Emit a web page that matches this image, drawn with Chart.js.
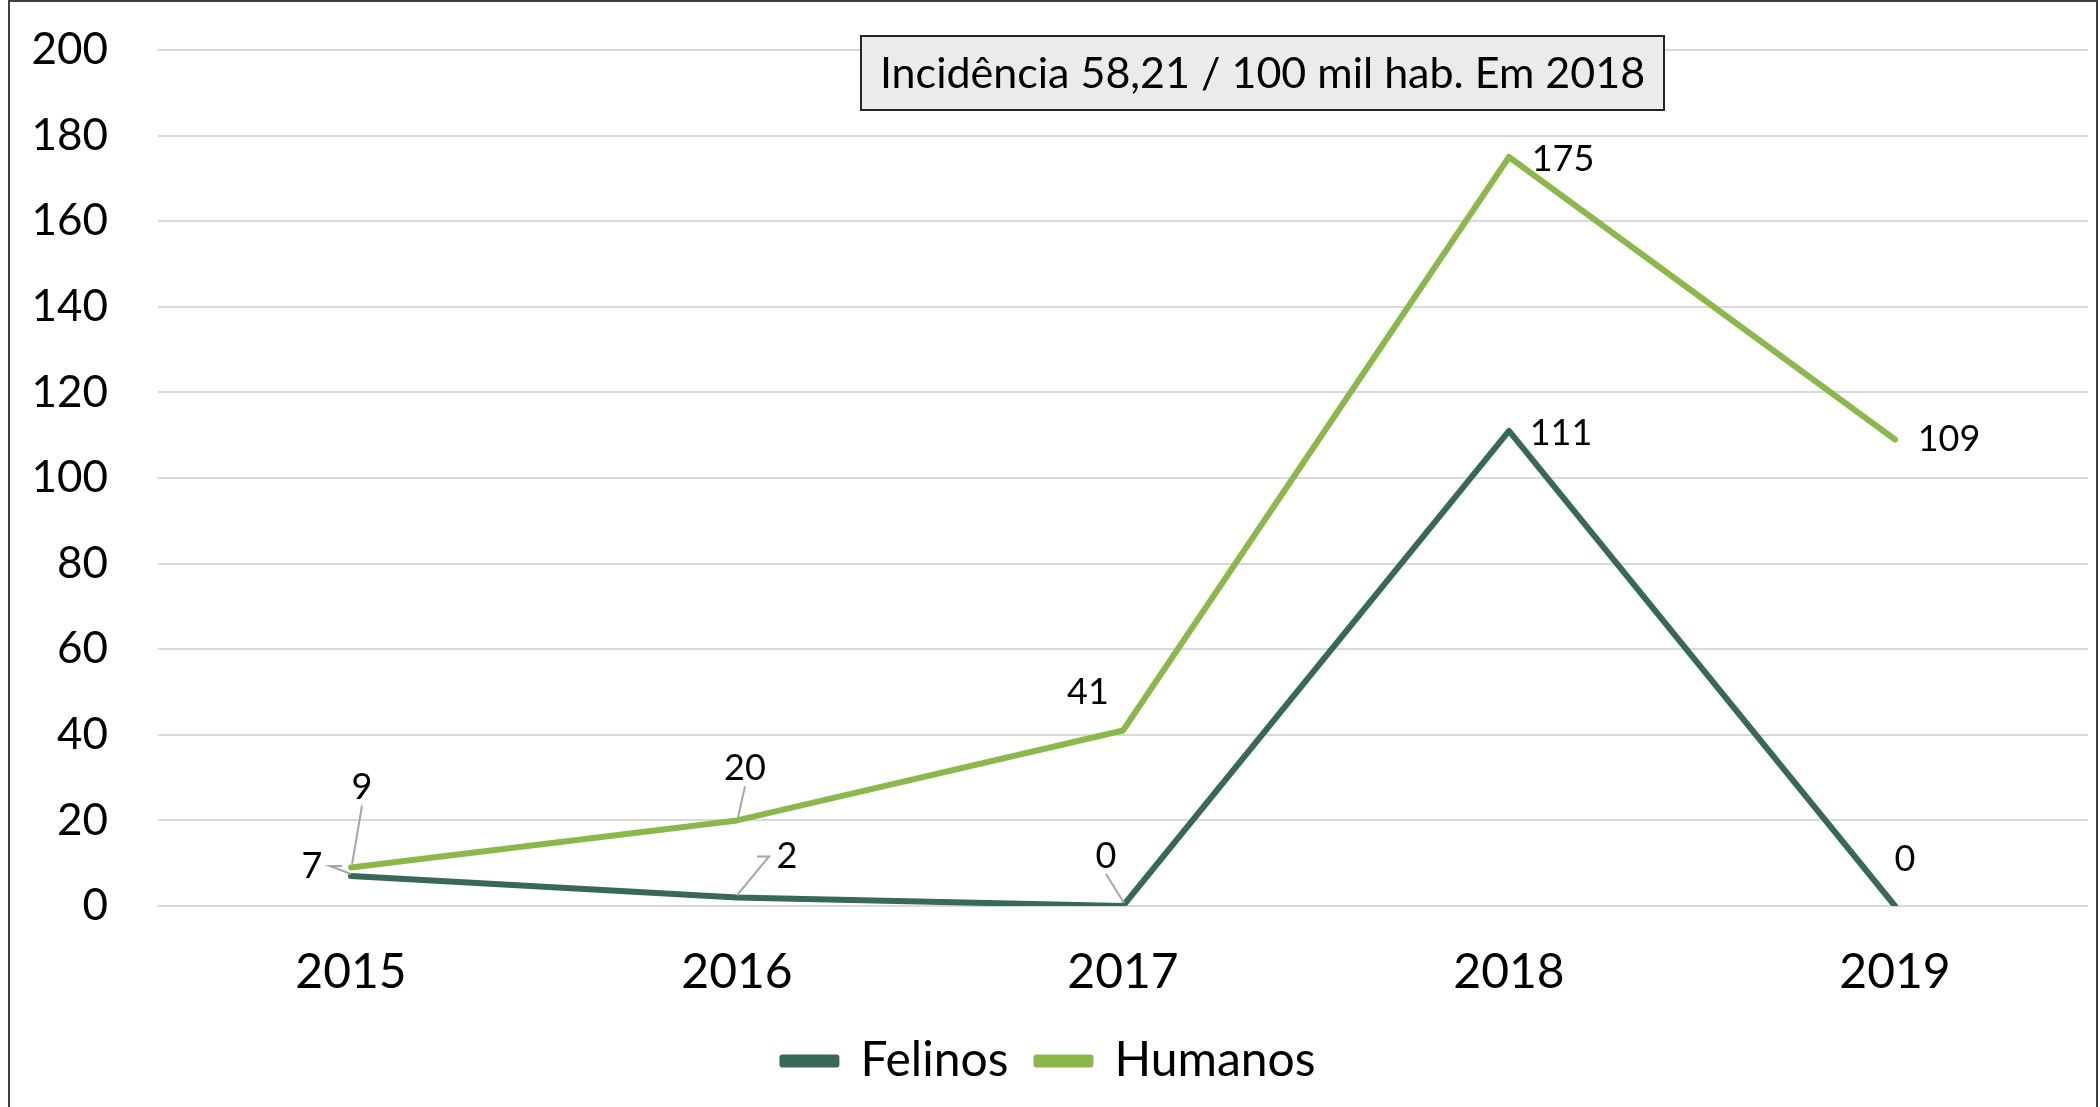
<!DOCTYPE html>
<html>
<head>
<meta charset="utf-8">
<script src="https://cdn.jsdelivr.net/npm/chart.js@4/dist/chart.umd.min.js"></script>
<style>
  html, body { margin: 0; padding: 0; background: #fff; }
  canvas { display: block; }
</style>
</head>
<body>
<canvas id="Casos" width="2100" height="1107"></canvas>
<script>
// Data
const anos = ['2015', '2016', '2017', '2018', '2019'];
const felinos = [7, 2, 0, 111, 0];
const humanos = [9, 20, 41, 175, 109];
const yMin = 0;
const yMax = 200;
const yStep = 20;
const nota = 'Incidência 58,21 / 100 mil hab. Em 2018';

const FONT = 'Lato, "Open Sans", "DejaVu Sans", sans-serif';
const verdeEscuro = '#37685a';
const verdeClaro = '#8cb84b';

// label placement per point (px offsets from the point), leader = grey connector
const rotulosFelinos = [
    { dx: -39, dy: -10, leader: true },
    { dx: 50, dy: -41, leader: true },
    { dx: -17, dy: -50, leader: true },
    { dx: 52, dy: 2, leader: false },
    { dx: 10, dy: -47, leader: false }
];
const rotulosHumanos = [
    { dx: 11, dy: -80, leader: true },
    { dx: 8, dy: -52, leader: true },
    { dx: -35, dy: -38, leader: false },
    { dx: 54, dy: 2, leader: false },
    { dx: 54, dy: 0, leader: false }
];

const rotulos = {
    id: 'rotulos',
    afterDatasetsDraw(chart) {
        const c = chart.ctx;
        const sets = [rotulosFelinos, rotulosHumanos];
        c.save();
        c.font = '36px ' + FONT;
        c.textAlign = 'center';
        c.textBaseline = 'middle';
        chart.data.datasets.forEach(function(ds, i) {
            const meta = chart.getDatasetMeta(i);
            meta.data.forEach(function(pt, j) {
                const r = sets[i][j];
                const lx = pt.x + r.dx;
                const ly = pt.y + r.dy;
                if (r.leader) {
                    c.strokeStyle = '#a6a6a6';
                    c.lineWidth = 2;
                    c.beginPath();
                    if (Math.abs(r.dy) > 45) {
                        // vertical-ish leader from under the label
                        c.moveTo(lx, ly + 18);
                        c.lineTo(pt.x + 1, pt.y - 3);
                    } else {
                        // elbow leader beside the label
                        const side = r.dx < 0 ? 1 : -1;
                        const ex = lx + side * 18;
                        c.moveTo(ex + side * 12, ly);
                        c.lineTo(ex, ly);
                        c.lineTo(pt.x, pt.y - 2);
                    }
                    c.stroke();
                }
                c.fillStyle = '#000';
                c.fillText(String(ds.data[j]), lx, ly);
            });
        });
        c.restore();
    }
};

const moldura = {
    id: 'moldura',
    afterDraw(chart) {
        const c = chart.ctx;
        c.save();
        // text box
        const bx = 861, by = 36, bw = 803, bh = 74;
        c.fillStyle = '#ebebeb';
        c.fillRect(bx, by, bw, bh);
        c.strokeStyle = '#262626';
        c.lineWidth = 2;
        c.strokeRect(bx, by, bw, bh);
        c.fillStyle = '#000';
        c.font = '43px ' + FONT;
        c.textAlign = 'center';
        c.textBaseline = 'middle';
        c.fillText(nota, bx + bw / 2, by + bh / 2 + 1);
        // outer frame
        c.strokeStyle = '#404040';
        c.lineWidth = 2;
        c.strokeRect(9, 1, 2088, 1115);
        c.restore();
    }
};

new Chart(document.getElementById('Casos'), {
    type: 'line',
    data: {
        labels: anos,
        datasets: [{
            label: 'Felinos',
            data: felinos,
            borderColor: verdeEscuro,
            backgroundColor: verdeEscuro,
            borderWidth: 6,
            borderCapStyle: 'round',
            borderJoinStyle: 'round',
            pointRadius: 0,
            tension: 0
        }, {
            label: 'Humanos',
            data: humanos,
            borderColor: verdeClaro,
            backgroundColor: verdeClaro,
            borderWidth: 6,
            borderCapStyle: 'round',
            borderJoinStyle: 'round',
            pointRadius: 0,
            tension: 0
        }]
    },
    options: {
        responsive: false,
        animation: false,
        layout: { padding: { left: 10, right: 12, top: 50, bottom: 12 } },
        scales: {
            x: {
                offset: true,
                grid: { display: false },
                border: { display: false },
                ticks: { color: '#000', font: { family: FONT, size: 48 }, padding: 30 },
                afterFit: function(s) { s.height = 103; }
            },
            y: {
                min: yMin,
                max: yMax,
                grid: { color: '#d9d9d9', lineWidth: 2, drawTicks: false },
                border: { display: false },
                ticks: { stepSize: yStep, color: '#000', font: { family: FONT, size: 44 }, padding: 50 },
                afterFit: function(s) { s.width = 148; s.paddingTop = 0; }
            }
        },
        plugins: {
            legend: {
                position: 'bottom',
                labels: {
                    color: '#000',
                    font: { family: FONT, size: 48 },
                    boxWidth: 54,
                    boxHeight: 7,
                    padding: 28
                }
            },
            tooltip: { enabled: false }
        }
    },
    plugins: [rotulos, moldura]
});
</script>
</body>
</html>
